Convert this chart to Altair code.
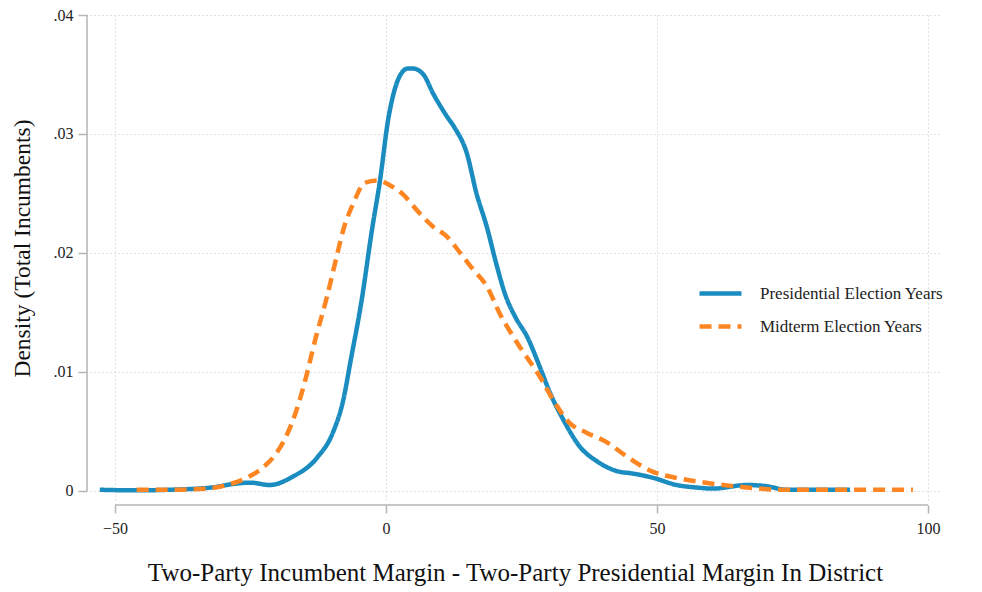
import altair as alt
import pandas as pd

series_names = ["Presidential Election Years", "Midterm Election Years"]
series_colors = ["#1a8cbf", "#fd8622"]
series_dashes = [[1, 0], [12, 7]]

pres_x = [-52.8, -46, -40, -32, -28, -25, -21.5, -17.2, -12.7, -9.8, -7.9, -6.5, -4.5,
          -2.6, -1.1, 0.4, 2.0, 3.0, 4.0, 5.0, 6.9, 8.7, 11.2, 12.7, 14.9, 16.7, 18.6,
          20.4, 22.0, 24.0, 26.0, 28.4, 30.3, 32.7, 35.8, 38.9, 43.2, 45.0, 49.3, 53.6,
          57.0, 60.4, 66.5, 70.2, 73.9, 78.8, 85.6]
pres_y = [0.0001, 0.00005, 0.0001, 0.0003, 0.0006, 0.0007, 0.0005, 0.0012, 0.0028, 0.0049,
          0.0076, 0.0110, 0.0160, 0.0219, 0.0261, 0.0312, 0.0343, 0.0352, 0.0355, 0.0355,
          0.0350, 0.0334, 0.0315, 0.0305, 0.0284, 0.0250, 0.0222, 0.0190, 0.0165, 0.0145,
          0.0130, 0.0104, 0.0082, 0.0060, 0.0037, 0.0025, 0.0016, 0.0015, 0.0011, 0.0005,
          0.0003, 0.0002, 0.0005, 0.0004, 0.0001, 0.0001, 0.0001]

mid_x = [-46, -40, -33.1, -29.4, -25.7, -22.9, -20.5, -18.3, -16.5, -14.9, -13.0, -10.9,
         -9.1, -7.9, -6.0, -3.9, -1.7, 0.7, 3.2, 5.7, 8.7, 11.2, 13.7, 16.1, 18.6, 21.0,
         24.7, 28.4, 30.9, 33.9, 37.0, 40.7, 44.4, 49.3, 53.6, 60.4, 66.5, 72.7, 78.8, 97.2]
mid_y = [0.0001, 0.0001, 0.0002, 0.0005, 0.0011, 0.0019, 0.0030, 0.0047, 0.0068, 0.0093,
         0.0128, 0.0163, 0.0197, 0.0219, 0.0242, 0.0259, 0.0261, 0.0257, 0.0249, 0.0236,
         0.0222, 0.0214, 0.0200, 0.0186, 0.0172, 0.0149, 0.0121, 0.0096, 0.0076, 0.0057,
         0.0049, 0.0041, 0.0029, 0.0016, 0.0011, 0.0006, 0.0003, 0.0001, 0.0001, 0.0001]

x_ticks = [-50, 0, 50, 100]
y_ticks = [0, 0.01, 0.02, 0.03, 0.04]
y_tick_labels = ["0", ".01", ".02", ".03", ".04"]

x_title = "Two-Party Incumbent Margin - Two-Party Presidential Margin In District"
y_title = "Density (Total Incumbents)"

df = pd.concat([
    pd.DataFrame({"margin": pres_x, "density": pres_y, "series": series_names[0], "ord": 0}),
    pd.DataFrame({"margin": mid_x, "density": mid_y, "series": series_names[1], "ord": 1}),
], ignore_index=True)

W, H = 850, 485
FONT = "Liberation Serif"
AXIS_GRAY = "#b5b5b5"

xscale = alt.Scale(domain=[-54.6, 102.2], nice=False, zero=False)
yscale = alt.Scale(domain=[-0.00076, 0.04], nice=False, zero=False)

y_label_expr = " : ".join(
    f"datum.value == {v} ? '{l}'" for v, l in zip(y_ticks, y_tick_labels)
) + " : ''"

legend = alt.Legend(
    title=None, orient="none", legendX=607, legendY=255,
    symbolType="stroke", symbolSize=1764, symbolStrokeWidth=4.5,
    labelFont=FONT, labelFontSize=17, labelColor="#222222", labelOffset=16,
    labelLimit=400, rowPadding=-18,
)

lines = alt.Chart(df).mark_line(strokeWidth=4.5, interpolate="monotone").encode(
    x=alt.X("margin:Q", scale=xscale, axis=alt.Axis(
        values=x_ticks, title=x_title, offset=5, domain=False, tickSize=8,
        tickColor=AXIS_GRAY, tickWidth=1.5, labelPadding=7, titlePadding=24,
        grid=True, gridDash=[1, 3], gridColor="#c4c4c4", gridWidth=1,
        titleFontSize=25, labelFontSize=16)),
    y=alt.Y("density:Q", scale=yscale, axis=alt.Axis(
        values=y_ticks, labelExpr=y_label_expr, title=y_title, offset=3, domain=False,
        tickSize=9, tickColor=AXIS_GRAY, tickWidth=1.5, labelPadding=5, titlePadding=19,
        titleY=233,
        grid=True, gridDash=[1, 3], gridColor="#c4c4c4", gridWidth=1,
        titleFontSize=23.5, labelFontSize=16)),
    color=alt.Color("series:N", scale=alt.Scale(domain=series_names, range=series_colors),
                    legend=legend),
    strokeDash=alt.StrokeDash("series:N", scale=alt.Scale(domain=series_names, range=series_dashes),
                              legend=legend),
    order="ord:Q",
)

y_axis_line = alt.Chart(pd.DataFrame({"y0": [y_ticks[0]], "y1": [y_ticks[-1]]})).mark_rule(
    color=AXIS_GRAY, strokeWidth=1.5).encode(
    x=alt.value(-3), y=alt.Y("y0:Q", scale=yscale), y2="y1:Q")

x_axis_line = alt.Chart(pd.DataFrame({"x0": [x_ticks[0]], "x1": [x_ticks[-1]]})).mark_rule(
    color=AXIS_GRAY, strokeWidth=1.5).encode(
    y=alt.value(H + 5), x=alt.X("x0:Q", scale=xscale), x2="x1:Q")

chart = alt.layer(lines, y_axis_line, x_axis_line).properties(
    width=W, height=H,
    autosize=alt.AutoSizeParams(type="none"),
    padding={"left": 82, "top": 7, "right": 34, "bottom": 90},
    background="white",
).configure_view(stroke=None).configure_axis(
    labelFont=FONT, titleFont=FONT, labelColor="#222222", titleColor="#111111",
    titleFontWeight="normal",
)

chart.save("out.html", embed_options={"renderer": "svg", "actions": False})
